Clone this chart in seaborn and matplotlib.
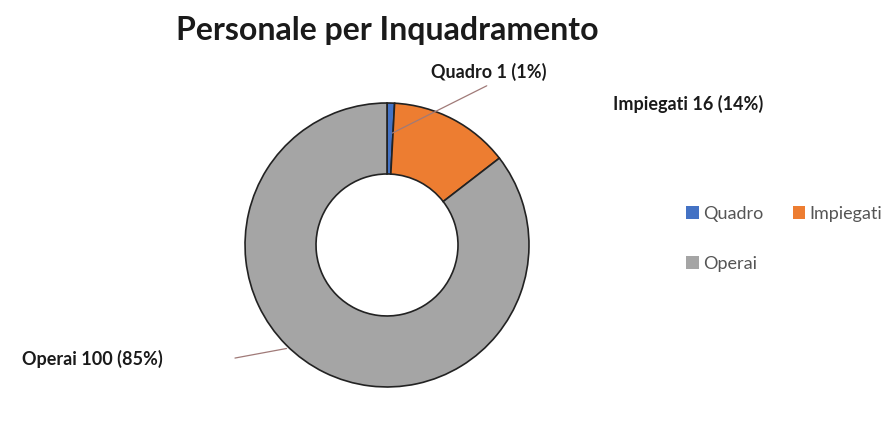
import numpy as np
import seaborn as sns
import matplotlib.pyplot as plt
from matplotlib.patches import Patch

# Dati
categorie = ['Quadro', 'Impiegati', 'Operai']
valori = [1, 16, 100]
colori = ['#4472c4', '#ed7d31', '#a5a5a5']

sns.set_theme(style='white')
plt.rcParams['font.family'] = ['Lato', 'DejaVu Sans']

fig = plt.figure(figsize=(8.91, 4.21), dpi=100)
fig.patch.set_facecolor('white')

# Asse quadrato centrato sulla ciambella
ax = fig.add_axes([0.275, 0.0808, 0.3187, 0.6746])
wedges, _ = ax.pie(valori, colors=colori, startangle=90, counterclock=False,
                   radius=1, wedgeprops=dict(width=0.5, edgecolor='#222222', linewidth=1.2))
ax.set_xlim(-1, 1)
ax.set_ylim(-1, 1)
ax.set_aspect('equal')
ax.axis('off')

totale = sum(valori)
etichette = [f"{c} {v} ({round(v / totale * 100):.0f}%)" for c, v in zip(categorie, valori)]

# posizioni delle etichette (coordinate dati dell'asse) e linee guida
pos_testo = [(0.31, 1.22), (1.59, 0.99), (-2.57, -0.80)]
fine_linea = [(0.72, 1.13), None, (-1.09, -0.80)]
ancora = [(0.78, 88.5), None, (1.0, 226.5)]  # (raggio, angolo)

for et, pt, fl, an in zip(etichette, pos_testo, fine_linea, ancora):
    ax.text(pt[0], pt[1], et, ha='left', va='center', fontsize=13, fontweight='bold',
            color='#1a1a1a', clip_on=False)
    if fl is not None:
        r, a = an
        anc = (r * np.cos(np.deg2rad(a)), r * np.sin(np.deg2rad(a)))
        ax.annotate('', xy=anc, xytext=fl,
                    arrowprops=dict(arrowstyle='-', color='#a07a78', lw=0.9),
                    annotation_clip=False)

fig.text(0.435, 0.928, 'Personale per Inquadramento', ha='center', va='center',
         fontsize=23, fontweight='bold', color='#1a1a1a')

# legenda riga per riga: Quadro, Impiegati / Operai
ordine = [0, 2, 1]
handles = [Patch(facecolor=colori[i], edgecolor='none', label=categorie[i]) for i in ordine]
fig.legend(handles=handles, loc='upper left', bbox_to_anchor=(0.752, 0.55), ncol=2,
           frameon=False, fontsize=13, handlelength=0.7, handleheight=0.7,
           handletextpad=0.25, columnspacing=1.6, labelspacing=1.9, labelcolor='#555555')

plt.savefig('out.png', dpi=100, facecolor='white')
